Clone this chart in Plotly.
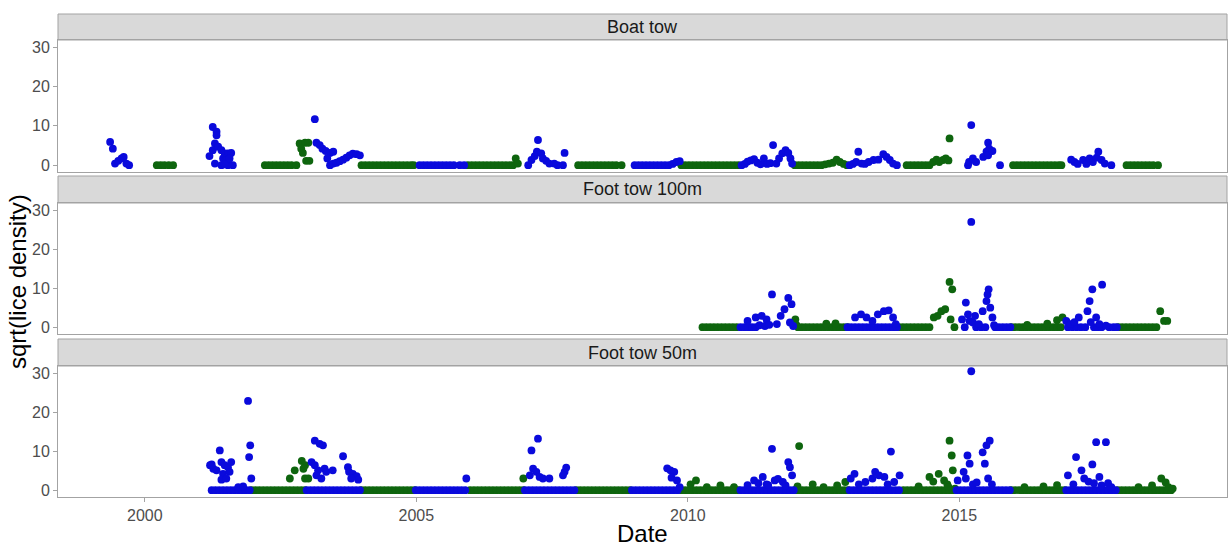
import plotly.graph_objects as go

# ---------------- data (decimal year, sqrt(lice density)) ----------------
panels = ["Boat tow", "Foot tow 100m", "Foot tow 50m"]

# ---- Boat tow ----
boat_blue_dates = [1999.36, 1999.41, 1999.45, 1999.51, 1999.57, 1999.61, 1999.66,
                   2001.19, 2001.25, 2001.32, 2001.32, 2001.29, 2001.25, 2001.35, 2001.41, 2001.47,
                   2001.53, 2001.59, 2001.44, 2001.50, 2001.56, 2001.29, 2001.47,
                   2003.13, 2003.16, 2003.22, 2003.27, 2003.33, 2003.41, 2003.47, 2003.36, 2003.47,
                   2003.53, 2003.59, 2003.65, 2003.71, 2003.77, 2003.83, 2003.90, 2003.96,
                   2007.12, 2007.18, 2007.24, 2007.22, 2007.30, 2007.33, 2007.39, 2007.45, 2007.54,
                   2007.73, 2009.72, 2009.79, 2009.85,
                   2011.05, 2011.10, 2011.16, 2011.22, 2011.28, 2011.34, 2011.40, 2011.46, 2011.52,
                   2011.57, 2011.63, 2011.68, 2011.74, 2011.80, 2011.85, 2011.89, 2011.92,
                   2013.04, 2013.10, 2013.14, 2013.20, 2013.26, 2013.33, 2013.42, 2013.51, 2013.60,
                   2013.66, 2013.72, 2013.78,
                   2015.18, 2015.22, 2015.25, 2015.31, 2015.44, 2015.50, 2015.53, 2015.55, 2015.53, 2015.61,
                   2017.06, 2017.12, 2017.18, 2017.28, 2017.34, 2017.40, 2017.46, 2017.53, 2017.56,
                   2017.62, 2017.68]
boat_blue_values = [5.9, 4.2, 0.4, 1.1, 1.7, 2.1, 0.4,
                    2.3, 9.7, 8.5, 7.6, 5.5, 3.8, 4.7, 3.8, 3.0,
                    3.0, 3.1, 1.7, 1.3, 1.7, 0.4, 0.2,
                    11.7, 5.7, 5.1, 4.2, 3.6, 3.1, 3.4, 1.7, 0.4,
                    0.6, 1.0, 1.4, 1.9, 2.5, 2.9, 2.8, 2.5,
                    1.3, 2.3, 6.4, 3.4, 3.0, 1.7, 1.1, 0.4, 0.4,
                    3.1, 0.3, 0.8, 1.0,
                    0.3, 0.9, 1.2, 1.5, 0.6, 0.2, 1.7, 0.3, 0.5,
                    5.1, 0.4, 1.7, 3.0, 3.8, 3.1, 1.7, 0.4,
                    0.3, 0.8, 3.4, 0.4, 0.3, 0.8, 1.3, 1.4, 2.8,
                    2.1, 1.3, 0.4,
                    0.8, 10.2, 1.7, 0.8, 2.1, 3.4, 5.7, 4.2, 2.5, 3.6,
                    1.4, 0.8, 0.3, 1.3, 0.3, 1.7, 0.8, 1.9, 3.4,
                    1.3, 0.4]
boat_blue_zero_dates = [1999.71, 2001.41, 2001.53, 2001.62, 2003.41,
                        2005.06, 2005.13, 2005.20, 2005.27, 2005.34, 2005.41, 2005.48, 2005.55,
                        2005.62, 2005.69, 2005.80, 2005.88,
                        2007.06, 2007.60, 2007.70,
                        2009.02, 2009.09, 2009.16, 2009.23, 2009.30, 2009.37, 2009.44, 2009.51,
                        2009.58, 2009.65, 2010.99, 2012.98, 2013.85, 2015.16, 2015.75, 2017.80]

boat_green_dates = [2002.85, 2002.95, 2003.01, 2002.88, 2002.91, 2002.97, 2003.03,
                    2006.83, 2006.87, 2012.53, 2012.60, 2012.67, 2012.74, 2012.80, 2012.87,
                    2014.52, 2014.58, 2014.63, 2014.70, 2014.75, 2014.80, 2014.82]
boat_green_values = [5.5, 5.7, 5.7, 4.2, 3.1, 1.1, 1.1,
                     1.7, 0.4, 0.2, 0.4, 0.6, 1.4, 0.8, 0.3,
                     0.8, 1.4, 0.8, 1.3, 1.7, 1.2, 6.8]
boat_green_zero_dates = [2000.22, 2000.29, 2000.36, 2000.44, 2000.52,
                         2002.21, 2002.28, 2002.35, 2002.42, 2002.49, 2002.56, 2002.63, 2002.70, 2002.79,
                         2003.99, 2004.06, 2004.13, 2004.20, 2004.27, 2004.34, 2004.41, 2004.48,
                         2004.55, 2004.62, 2004.69, 2004.76, 2004.83, 2004.90, 2004.95,
                         2005.95, 2006.02, 2006.09, 2006.16, 2006.23, 2006.30, 2006.37, 2006.44,
                         2006.51, 2006.58, 2006.65, 2006.72, 2006.78,
                         2007.98, 2008.05, 2008.12, 2008.19, 2008.26, 2008.33, 2008.40, 2008.47,
                         2008.54, 2008.61, 2008.68, 2008.78,
                         2009.88, 2009.95, 2010.02, 2010.09, 2010.16, 2010.23, 2010.30, 2010.37,
                         2010.44, 2010.51, 2010.58, 2010.65, 2010.72, 2010.79, 2010.86, 2010.93,
                         2011.97, 2012.04, 2012.11, 2012.18, 2012.25, 2012.32, 2012.39, 2012.46, 2012.93,
                         2014.03, 2014.10, 2014.17, 2014.24, 2014.31, 2014.38, 2014.45,
                         2015.99, 2016.06, 2016.13, 2016.20, 2016.27, 2016.34, 2016.41, 2016.48,
                         2016.55, 2016.62, 2016.69, 2016.76, 2016.83, 2016.88,
                         2018.08, 2018.15, 2018.22, 2018.29, 2018.36, 2018.43, 2018.50, 2018.57, 2018.66]

# ---- Foot tow 100m ----
ft100_blue_dates = [2011.10, 2011.25, 2011.36, 2011.45, 2011.55, 2011.64, 2011.71, 2011.78, 2011.85,
                    2011.91, 2011.88, 2011.94, 2011.32, 2011.42, 2011.50,
                    2013.08, 2013.19, 2013.29, 2013.40, 2013.50, 2013.61, 2013.70, 2013.78, 2013.83,
                    2015.05, 2015.12, 2015.16, 2015.22, 2015.19, 2015.25, 2015.29, 2015.36, 2015.43,
                    2015.50, 2015.54, 2015.52, 2015.57, 2015.61, 2015.64,
                    2016.97, 2017.05, 2017.12, 2017.20, 2017.36, 2017.40, 2017.45, 2017.63, 2017.42,
                    2017.52, 2017.58, 2017.70]
ft100_blue_values = [1.6, 2.5, 2.9, 2.0, 8.4, 0.8, 2.9, 4.6, 7.5,
                     5.9, 1.2, 0.3, 0.5, 0.3, 0.6,
                     2.5, 3.3, 2.5, 1.6, 3.3, 4.1, 4.3, 2.5, 0.8,
                     2.0, 6.3, 3.3, 27.0, 1.6, 1.2, 2.9, 0.8, 4.1,
                     6.7, 9.7, 8.4, 5.0, 2.5, 0.5,
                     1.6, 0.8, 1.3, 2.5, 4.1, 6.7, 9.7, 10.9, 1.3,
                     2.5, 0.8, 0.4]
ft100_blue_zero_dates = [2010.97, 2011.04, 2011.11, 2011.18, 2011.25,
                         2012.94, 2013.01, 2013.08, 2013.15, 2013.22, 2013.29, 2013.36, 2013.43,
                         2013.50, 2013.57, 2013.64, 2013.71, 2013.78, 2013.85,
                         2015.10, 2015.31, 2015.40, 2015.48, 2015.66, 2015.73, 2015.80, 2015.87, 2015.94,
                         2017.00, 2017.08, 2017.16, 2017.24, 2017.32, 2017.48, 2017.55, 2017.62,
                         2017.76, 2017.84, 2017.90]

ft100_green_dates = [2011.98, 2012.00, 2012.55, 2012.72,
                     2014.53, 2014.60, 2014.67, 2014.74, 2014.82, 2014.87, 2014.84,
                     2016.25, 2016.62, 2016.80, 2016.90,
                     2018.70, 2018.77, 2018.83]
ft100_green_values = [2.0, 0.5, 0.9, 1.0,
                      2.5, 2.9, 4.1, 4.6, 11.6, 9.7, 2.0,
                      0.6, 0.9, 1.8, 2.5,
                      4.1, 1.6, 1.6]
ft100_green_zero_dates = [2010.27, 2010.34, 2010.41, 2010.48, 2010.55, 2010.62, 2010.69, 2010.76,
                          2010.83, 2010.90,
                          2012.03, 2012.10, 2012.17, 2012.24, 2012.31, 2012.38, 2012.45, 2012.52,
                          2012.59, 2012.66, 2012.73, 2012.80, 2012.87, 2012.94,
                          2013.89, 2013.96, 2014.03, 2014.10, 2014.17, 2014.24, 2014.31, 2014.38,
                          2014.45, 2014.91,
                          2015.96, 2016.03, 2016.10, 2016.17, 2016.24, 2016.31, 2016.38, 2016.45,
                          2016.52, 2016.59, 2016.66, 2016.73, 2016.80, 2016.87,
                          2017.93, 2018.00, 2018.07, 2018.14, 2018.21, 2018.28, 2018.35, 2018.42,
                          2018.49, 2018.56, 2018.63]

# ---- Foot tow 50m ----
ft50_blue_dates = [2001.20, 2001.26, 2001.23, 2001.32, 2001.38, 2001.41, 2001.44, 2001.47, 2001.53,
                   2001.56, 2001.59, 2001.41, 2001.50, 2001.72, 2001.81, 2001.90, 2001.94, 2001.92, 2001.96,
                   2003.13, 2003.22, 2003.28, 2003.07, 2003.13, 2003.19, 2003.16, 2003.25, 2003.31,
                   2003.34, 2003.46, 2003.65, 2003.74, 2003.76, 2003.83, 2003.90, 2003.93, 2003.80,
                   2005.92,
                   2007.12, 2007.24, 2007.15, 2007.21, 2007.09, 2007.27, 2007.33, 2007.45, 2007.73,
                   2007.76, 2007.70,
                   2009.62, 2009.68, 2009.75, 2009.70, 2009.80, 2009.85,
                   2011.10, 2011.22, 2011.30, 2011.38, 2011.45, 2011.55, 2011.48, 2011.60, 2011.66,
                   2011.75, 2011.85, 2011.88, 2011.92, 2011.80,
                   2013.00, 2013.07, 2013.15, 2013.27, 2013.40, 2013.45, 2013.52, 2013.62, 2013.68,
                   2013.74, 2013.80, 2013.90,
                   2014.97, 2015.08, 2015.19, 2015.15, 2015.12, 2015.25, 2015.32, 2015.22, 2015.43,
                   2015.50, 2015.56, 2015.47, 2015.53, 2015.60,
                   2017.00, 2017.15, 2017.10, 2017.25, 2017.30, 2017.38, 2017.45, 2017.52, 2017.70,
                   2017.48, 2017.58, 2017.62, 2017.74, 2017.80]
ft50_blue_values = [6.4, 5.5, 6.6, 5.1, 10.2, 7.2, 4.2, 6.4, 5.9,
                    4.7, 7.2, 2.7, 3.0, 0.8, 1.0, 22.9, 11.5, 8.5, 3.0,
                    12.7, 11.9, 11.5, 7.2, 6.4, 5.1, 3.8, 3.0, 5.5,
                    4.7, 5.1, 8.7, 5.9, 4.7, 4.2, 3.6, 2.7, 3.0,
                    3.0,
                    10.2, 13.2, 5.5, 4.7, 3.8, 3.4, 3.0, 3.0, 4.7,
                    5.8, 3.8,
                    5.6, 5.1, 4.7, 3.2, 2.5, 0.8,
                    1.3, 2.5, 1.8, 3.4, 1.5, 10.6, 1.3, 2.5, 2.9,
                    2.1, 7.2, 5.9, 3.8, 1.2,
                    3.0, 4.2, 1.5, 2.1, 3.0, 4.7, 3.8, 3.4, 1.5,
                    9.9, 2.1, 3.8,
                    2.5, 4.7, 6.8, 8.9, 3.0, 1.5, 2.0, 30.5, 9.7,
                    11.5, 12.7, 6.8, 3.0, 1.5,
                    3.8, 8.5, 1.5, 5.1, 3.0, 2.2, 6.6, 12.3, 12.3,
                    1.8, 3.4, 1.2, 1.8, 0.8]
ft50_blue_zero_dates = [2001.23, 2001.30, 2001.37, 2001.44, 2001.51, 2001.58, 2001.65, 2001.72,
                        2001.79, 2001.86, 2001.93,
                        2002.98, 2003.05, 2003.12, 2003.19, 2003.26, 2003.33, 2003.40, 2003.47,
                        2003.54, 2003.61, 2003.68, 2003.75, 2003.82, 2003.89, 2003.96,
                        2004.99, 2005.06, 2005.13, 2005.20, 2005.27, 2005.34, 2005.41, 2005.48,
                        2005.55, 2005.62, 2005.69, 2005.76, 2005.83, 2005.90,
                        2007.00, 2007.07, 2007.14, 2007.21, 2007.28, 2007.35, 2007.42, 2007.49,
                        2007.56, 2007.63, 2007.70, 2007.77, 2007.84, 2007.91,
                        2008.97, 2009.04, 2009.11, 2009.18, 2009.25, 2009.32, 2009.39, 2009.46,
                        2009.53, 2009.60, 2009.67, 2009.74, 2009.81,
                        2010.97, 2011.04, 2011.11, 2011.18, 2011.25, 2011.32, 2011.39, 2011.46,
                        2011.53, 2011.60, 2011.67, 2011.74, 2011.81, 2011.88, 2011.95,
                        2012.98, 2013.05, 2013.12, 2013.19, 2013.26, 2013.33, 2013.40, 2013.47,
                        2013.54, 2013.61, 2013.68, 2013.75, 2013.82, 2013.89,
                        2014.95, 2015.02, 2015.09, 2015.16, 2015.23, 2015.30, 2015.37, 2015.44,
                        2015.51, 2015.58, 2015.65, 2015.72, 2015.79, 2015.86, 2015.93,
                        2016.97, 2017.04, 2017.11, 2017.18, 2017.25, 2017.32, 2017.39, 2017.46,
                        2017.53, 2017.60, 2017.67, 2017.74, 2017.81, 2017.88]

ft50_green_dates = [2002.67, 2002.76, 2002.89, 2002.95, 2002.92, 2002.95, 2003.01,
                    2006.97,
                    2010.05, 2010.15, 2010.35, 2010.60, 2010.85,
                    2012.05, 2012.02, 2012.30, 2012.50, 2012.75, 2012.90,
                    2014.25, 2014.45, 2014.52, 2014.62, 2014.72, 2014.78, 2014.82, 2014.86, 2014.88,
                    2014.80, 2014.92,
                    2016.20, 2016.55, 2016.80,
                    2018.30, 2018.55, 2018.72, 2018.80, 2018.85, 2018.93]
ft50_green_values = [3.0, 5.1, 7.5, 6.4, 5.5, 3.0, 3.0,
                     3.0,
                     1.5, 2.5, 0.8, 1.2, 0.8,
                     11.3, 1.0, 1.5, 0.8, 1.2, 2.1,
                     1.0, 3.4, 2.2, 4.2, 2.5, 1.5, 12.7, 8.9, 5.1,
                     0.8, 0.4,
                     0.8, 1.0, 1.3,
                     0.8, 1.2, 3.0, 2.0, 0.8, 0.4]
ft50_green_zero_dates = [2001.97, 2002.04, 2002.11, 2002.18, 2002.25, 2002.32, 2002.39, 2002.46,
                         2002.53, 2002.60, 2002.67, 2002.74, 2002.81, 2002.88, 2002.95,
                         2003.99, 2004.06, 2004.13, 2004.20, 2004.27, 2004.34, 2004.41, 2004.48,
                         2004.55, 2004.62, 2004.69, 2004.76, 2004.83, 2004.90, 2004.97,
                         2005.99, 2006.06, 2006.13, 2006.20, 2006.27, 2006.34, 2006.41, 2006.48,
                         2006.55, 2006.62, 2006.69, 2006.76, 2006.83, 2006.90, 2006.97,
                         2007.95, 2008.02, 2008.09, 2008.16, 2008.23, 2008.30, 2008.37, 2008.44,
                         2008.51, 2008.58, 2008.65, 2008.72, 2008.79, 2008.86, 2008.93,
                         2009.88, 2009.95, 2010.02, 2010.09, 2010.16, 2010.23, 2010.30, 2010.37,
                         2010.44, 2010.51, 2010.58, 2010.65, 2010.72, 2010.79, 2010.86, 2010.93,
                         2011.97, 2012.04, 2012.11, 2012.18, 2012.25, 2012.32, 2012.39, 2012.46,
                         2012.53, 2012.60, 2012.67, 2012.74, 2012.81, 2012.88, 2012.95,
                         2013.97, 2014.04, 2014.11, 2014.18, 2014.25, 2014.32, 2014.39, 2014.46,
                         2014.53, 2014.60, 2014.67, 2014.74, 2014.81, 2014.88,
                         2015.96, 2016.03, 2016.10, 2016.17, 2016.24, 2016.31, 2016.38, 2016.45,
                         2016.52, 2016.59, 2016.66, 2016.73, 2016.80, 2016.87, 2016.94,
                         2017.92, 2017.99, 2018.06, 2018.13, 2018.20, 2018.27, 2018.34, 2018.41,
                         2018.48, 2018.55, 2018.62, 2018.69, 2018.76, 2018.83, 2018.90]

x_tick_vals = [2000, 2005, 2010, 2015]
x_tick_text = ["2000", "2005", "2010", "2015"]
y_tick_vals = [0, 10, 20, 30]
y_tick_text = ["0", "10", "20", "30"]

# ---------------- styling ----------------
BLUE = "#0A0ADC"
GREEN = "#0E650E"
BORDER = "#A3A3A3"
STRIP_FILL = "#D9D9D9"
FONT = "Liberation Sans, Arial, sans-serif"
TICK_SIZE = 16
STRIP_SIZE = 18
TITLE_SIZE = 24

W, H = 1229, 547
ML, MR, MT, MB = 58, 2, 14, 50
plot_h = H - MT - MB

# pixel positions (top, bottom) of each panel and strip
strip_px = [(14, 40), (176, 203), (339, 366)]
panel_px = [(40, 172), (203, 334), (366, 497)]


def py(px):
    return (H - MB - px) / plot_h


data = [
    (boat_blue_dates, boat_blue_values, boat_blue_zero_dates,
     boat_green_dates, boat_green_values, boat_green_zero_dates),
    (ft100_blue_dates, ft100_blue_values, ft100_blue_zero_dates,
     ft100_green_dates, ft100_green_values, ft100_green_zero_dates),
    (ft50_blue_dates, ft50_blue_values, ft50_blue_zero_dates,
     ft50_green_dates, ft50_green_values, ft50_green_zero_dates),
]

fig = go.Figure()
marker_size = 7.8

for i, (bd, bv, bz, gd, gv, gz) in enumerate(data):
    xa = "x" if i == 0 else f"x{i+1}"
    ya = "y" if i == 0 else f"y{i+1}"
    fig.add_trace(go.Scatter(x=gz + gd, y=[0] * len(gz) + gv, mode="markers",
                             marker=dict(color=GREEN, size=marker_size, line=dict(width=0)),
                             xaxis=xa, yaxis=ya, showlegend=False, hoverinfo="x+y"))
    fig.add_trace(go.Scatter(x=bz + bd, y=[0] * len(bz) + bv, mode="markers",
                             marker=dict(color=BLUE, size=marker_size, line=dict(width=0)),
                             xaxis=xa, yaxis=ya, showlegend=False, hoverinfo="x+y"))

xrange = [1998.40, 2019.93]
yrange = [-1.75, 31.85]

layout = dict(
    width=W, height=H,
    margin=dict(l=ML, r=MR, t=MT, b=MB),
    paper_bgcolor="white", plot_bgcolor="white",
    font=dict(family=FONT, size=TICK_SIZE, color="#4D4D4D"),
    showlegend=False,
)

for i in range(3):
    xkey = "xaxis" if i == 0 else f"xaxis{i+1}"
    ykey = "yaxis" if i == 0 else f"yaxis{i+1}"
    top, bot = panel_px[i]
    last = (i == 2)
    layout[xkey] = dict(
        range=xrange, domain=[0, 1], anchor="y" if i == 0 else f"y{i+1}",
        showgrid=False, zeroline=False, automargin=False,
        showline=True, mirror=True, linecolor=BORDER, linewidth=1,
        tickvals=x_tick_vals, ticktext=x_tick_text,
        showticklabels=last, ticks="outside" if last else "",
        ticklen=4, tickcolor=BORDER,
        tickfont=dict(family=FONT, size=TICK_SIZE, color="#4D4D4D"),
    )
    layout[ykey] = dict(
        range=yrange, domain=[py(bot), py(top)], anchor="x" if i == 0 else f"x{i+1}",
        showgrid=False, zeroline=False, automargin=False,
        showline=True, mirror=True, linecolor=BORDER, linewidth=1,
        tickvals=y_tick_vals, ticktext=y_tick_text,
        ticks="outside", ticklen=4, tickcolor=BORDER,
        tickfont=dict(family=FONT, size=TICK_SIZE, color="#4D4D4D"),
    )

shapes = []
annotations = []
for i, name in enumerate(panels):
    top, bot = strip_px[i]
    shapes.append(dict(type="rect", xref="paper", yref="paper", x0=0, x1=1,
                       y0=py(bot), y1=py(top), fillcolor=STRIP_FILL,
                       line=dict(color=BORDER, width=1), layer="below"))
    annotations.append(dict(text=name, xref="paper", yref="paper", x=0.5,
                            y=(py(bot) + py(top)) / 2, xanchor="center", yanchor="middle",
                            showarrow=False, font=dict(family=FONT, size=STRIP_SIZE, color="#1A1A1A")))

annotations.append(dict(text="sqrt(lice density)", xref="paper", yref="paper",
                        x=(17 - ML) / (W - ML - MR), y=py(282), textangle=-90,
                        xanchor="center", yanchor="middle", showarrow=False,
                        font=dict(family=FONT, size=TITLE_SIZE, color="black")))
annotations.append(dict(text="Date", xref="paper", yref="paper",
                        x=(642 - ML) / (W - ML - MR), y=py(533),
                        xanchor="center", yanchor="middle", showarrow=False,
                        font=dict(family=FONT, size=TITLE_SIZE, color="black")))

layout["shapes"] = shapes
layout["annotations"] = annotations
fig.update_layout(**layout)

fig.write_html("out.html", config={"displayModeBar": False},
               post_script="document.body.style.margin='0';document.body.style.overflow='hidden';")
